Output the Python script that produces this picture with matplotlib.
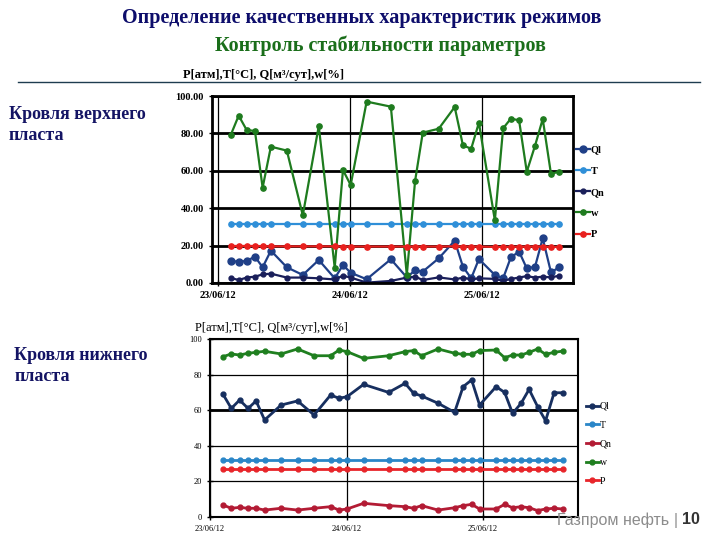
import matplotlib
matplotlib.use("Agg")
import matplotlib.pyplot as plt
import matplotlib.dates as mdates
from matplotlib.lines import Line2D
import datetime

plt.rcParams['font.family'] = ['Liberation Serif', 'DejaVu Serif']

# время замеров, часы от 23/06/12 00:00
hours = [2.3, 3.75, 5.2, 6.7, 8.1, 9.6, 12.5, 15.4, 18.3, 21.2, 22.7, 24.1, 27.0,
         31.4, 34.3, 35.8, 37.2, 40.1, 43.0, 44.5, 46.0, 47.4, 50.3, 51.8, 53.2,
         54.7, 56.1, 57.6, 59.0, 60.5, 62.0]
base = datetime.datetime(2012, 6, 23)
times = [base + datetime.timedelta(hours=h) for h in hours]

series_names = ['Ql', 'T', 'Qn', 'w', 'P']

# кровля верхнего пласта
top_Ql = [11.8, 11.4, 11.8, 14.1, 8.4, 17.3, 8.4, 4.3, 12.3, 2.5, 9.6, 5.5, 2.0, 12.7,
          3.0, 6.8, 6.1, 13.2, 22.6, 8.7, 2.5, 12.8, 4.3, 2.5, 13.7, 16.8, 7.8, 8.7,
          23.9, 5.7, 8.4]
top_T = [31.3, 31.3, 31.3, 31.3, 31.3, 31.3, 31.3, 31.3, 31.3, 31.3, 31.3, 31.3, 31.3,
         31.3, 31.3, 31.3, 31.3, 31.3, 31.3, 31.3, 31.3, 31.3, 31.3, 31.3, 31.3, 31.3,
         31.3, 31.3, 31.3, 31.3, 31.3]
top_Qn = [2.7, 1.6, 2.9, 3.4, 4.6, 5.0, 2.9, 2.9, 2.5, 1.9, 3.9, 2.9, 0.2, 1.1, 2.9,
          3.4, 1.6, 3.0, 1.9, 2.9, 1.9, 2.5, 2.2, 1.1, 2.2, 2.9, 3.7, 2.9, 3.4, 3.0, 3.9]
top_w = [79.1, 89.5, 81.8, 81.3, 51.0, 72.9, 70.8, 36.2, 84.0, 8.2, 60.4, 52.4, 97.0,
         94.3, 4.3, 54.5, 80.4, 82.5, 94.1, 73.6, 71.8, 85.7, 33.5, 82.7, 87.9, 87.0,
         59.5, 73.4, 87.7, 58.3, 59.6]
top_P = [19.8, 19.8, 19.8, 19.8, 19.7, 19.6, 19.6, 19.6, 19.6, 19.6, 19.5, 19.5, 19.5,
         19.5, 19.5, 19.5, 19.5, 19.5, 19.6, 19.5, 19.5, 19.5, 19.3, 19.3, 19.4, 19.4,
         19.5, 19.5, 19.5, 19.3, 19.3]

# кровля нижнего пласта
bot_Ql = [68.9, 61.0, 65.7, 61.0, 65.2, 54.5, 62.9, 65.2, 57.3, 68.5, 66.7, 67.6, 74.5,
          70.0, 75.1, 69.5, 68.0, 63.9, 58.8, 73.2, 77.0, 62.9, 73.2, 70.0, 58.2, 63.9,
          71.7, 62.0, 54.1, 69.8, 69.8]
bot_T = [32.0, 32.0, 32.0, 32.0, 32.0, 32.0, 32.0, 32.0, 32.0, 32.0, 32.0, 32.0, 32.0,
         32.0, 32.0, 32.0, 32.0, 32.0, 32.0, 32.0, 32.0, 32.0, 32.0, 32.0, 32.0, 32.0,
         32.0, 32.0, 32.0, 32.0, 32.0]
bot_Qn = [6.7, 4.9, 5.4, 4.9, 4.9, 3.9, 4.9, 3.9, 4.9, 5.8, 3.9, 4.5, 7.7, 6.4, 5.8,
          4.9, 6.4, 3.9, 5.2, 6.4, 7.1, 4.5, 4.5, 7.1, 5.2, 5.8, 5.2, 3.6, 4.5, 4.9, 4.5]
bot_w = [90.1, 91.6, 91.0, 92.0, 92.5, 93.1, 91.6, 94.4, 90.6, 90.6, 93.8, 92.9, 89.1,
         90.6, 92.9, 93.5, 90.6, 94.4, 92.0, 91.4, 91.4, 93.5, 93.8, 89.5, 91.0, 91.0,
         92.5, 94.4, 91.4, 92.5, 93.2]
bot_P = [26.9, 26.9, 26.9, 26.9, 26.9, 26.9, 26.9, 26.9, 26.9, 26.9, 26.9, 26.9, 26.9,
         26.9, 26.9, 26.9, 26.9, 26.9, 26.9, 26.9, 26.9, 26.9, 26.9, 26.9, 26.9, 26.9,
         26.9, 26.9, 26.9, 26.9, 26.9]

date_ticks = [base + datetime.timedelta(days=d) for d in range(3)]
ylabel = 'P[атм],T[°C], Q[м³/сут],w[%]'

fig = plt.figure(figsize=(7.2, 5.4), dpi=100)

# заголовки
fig.text(0.503, 0.967, 'Определение качественных характеристик режимов', ha='center', va='center',
         fontsize=14.5, fontweight='bold', color='#0d0d6b')
fig.text(0.528, 0.916, 'Контроль стабильности параметров', ha='center', va='center',
         fontsize=14.5, fontweight='bold', color='#1a6e1a')
fig.add_artist(Line2D([0.025, 0.972], [1 - 82 / 540, 1 - 82 / 540], color='#1e3c50', lw=1))

fig.text(0.012, 1 - 125 / 540, 'Кровля верхнего\nпласта', ha='left', va='center', fontsize=13,
         fontweight='bold', color='#141464', linespacing=1.3)
fig.text(0.02, 1 - 366 / 540, 'Кровля нижнего\nпласта', ha='left', va='center', fontsize=13,
         fontweight='bold', color='#141464', linespacing=1.3)

# ---- верхний график ----
ax1 = fig.add_axes([212 / 720, 1 - 283 / 540, 361 / 720, 187 / 540])
top_colors = ['#1f3f87', '#2f8fd8', '#1a1f5a', '#1e7b1e', '#e8201e']
top_data = [top_Ql, top_T, top_Qn, top_w, top_P]
top_ms = [5, 3.8, 3.5, 3.8, 3.8]
for name, vals, c, ms in zip(series_names, top_data, top_colors, top_ms):
    ax1.plot(times, vals, color=c, lw=1.6, marker='o', ms=ms, label=name)
ax1.set_ylim(0, 100)
ax1.set_xlim(base - datetime.timedelta(hours=1.1), base + datetime.timedelta(hours=64.5))
ax1.set_yticks([0, 20, 40, 60, 80, 100])
ax1.set_yticklabels(['0.00', '20.00', '40.00', '60.00', '80.00', '100.00'])
ax1.set_xticks(date_ticks)
ax1.xaxis.set_major_formatter(mdates.DateFormatter('%d/%m/%y'))
ax1.tick_params(labelsize=7.5, direction='inout', length=5, width=1)
for lab in ax1.get_xticklabels() + ax1.get_yticklabels():
    lab.set_fontweight('bold')
ax1.grid(axis='y', color='black', lw=2)
ax1.grid(axis='x', color='black', lw=0.9)
ax1.set_axisbelow(True)
for sp in ax1.spines.values():
    sp.set_linewidth(2)
fig.text(183 / 720, 1 - 75 / 540, ylabel, ha='left', va='center', fontsize=9, fontweight='bold')
ax1.legend(loc='upper left', bbox_to_anchor=(576 / 720, 1 - 145 / 540),
           bbox_transform=fig.transFigure, frameon=False, handlelength=1.3,
           handletextpad=0.1, labelspacing=1.15, borderaxespad=0, borderpad=0,
           prop={'weight': 'bold', 'size': 7.5})

# ---- нижний график ----
ax2 = fig.add_axes([210 / 720, 1 - 517 / 540, 368 / 720, 178 / 540])
bot_colors = ['#172f5f', '#2a86c8', '#b31b34', '#1f7f1f', '#e8252a']
bot_data = [bot_Ql, bot_T, bot_Qn, bot_w, bot_P]
for name, vals, c in zip(series_names, bot_data, bot_colors):
    ax2.plot(times, vals, color=c, lw=2, marker='o', ms=3.5, label=name)
ax2.set_ylim(0, 100)
ax2.set_xlim(base, base + datetime.timedelta(hours=64.7))
ax2.set_yticks([0, 20, 40, 60, 80, 100])
ax2.set_xticks(date_ticks)
ax2.xaxis.set_major_formatter(mdates.DateFormatter('%d/%m/%y'))
ax2.tick_params(labelsize=6, direction='inout', length=4, width=1)
ax2.grid(axis='both', color='black', lw=0.9)
ax2.axhline(60, color='black', lw=2, zorder=0.5)
ax2.set_axisbelow(True)
for sp in ax2.spines.values():
    sp.set_linewidth(1.5)
fig.text(195 / 720, 1 - 328 / 540, ylabel, ha='left', va='center', fontsize=9)
ax2.legend(loc='upper left', bbox_to_anchor=(586 / 720, 1 - 402 / 540),
           bbox_transform=fig.transFigure, frameon=False, handlelength=1.3,
           handletextpad=0.1, labelspacing=1.0, borderaxespad=0, borderpad=0,
           prop={'size': 7})

# подвал
fig.text(557 / 720, 1 - 520 / 540, 'Газпром нефть', ha='left', va='center', fontsize=11.5,
         color='#8c8c8c', family='Liberation Sans')
fig.text(674 / 720, 1 - 520 / 540, '|', ha='left', va='center', fontsize=11.5,
         color='#8c8c8c', family='Liberation Sans')
fig.text(682 / 720, 1 - 520 / 540, '10', ha='left', va='center', fontsize=11.5,
         color='#333333', fontweight='bold', family='Liberation Sans')

fig.savefig('out.png', dpi=100)
